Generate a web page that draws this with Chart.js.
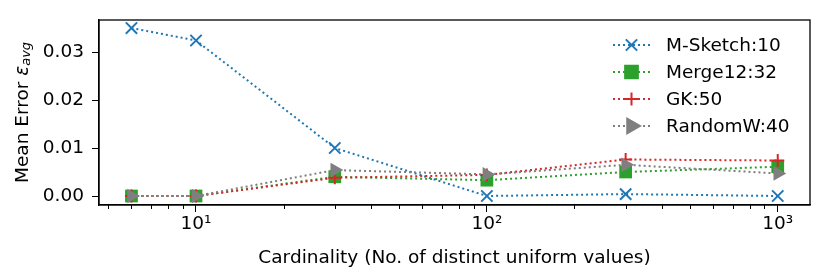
<!DOCTYPE html>
<html>
<head>
<meta charset="utf-8">
<script src="https://cdn.jsdelivr.net/npm/chart.js@4"></script>
<style>
  html, body { margin: 0; padding: 0; background: #fff; }
  #wrap { width: 830px; height: 278px; }
</style>
</head>
<body>
<div id="wrap"><canvas id="myChart" width="830" height="278"></canvas></div>
<script>
// cardinalities (x, log scale)
const cardinality = [6, 10, 30, 100, 300, 1000];
// mean error per sketch
const mSketch = [0.0350, 0.0324, 0.0100, 0.0000, 0.0004, 0.0000];
const merge12 = [0.0000, 0.0000, 0.0040, 0.0033, 0.0050, 0.0061];
const gk50 = [0.0000, 0.0000, 0.0038, 0.0044, 0.0076, 0.0074];
const randomW = [0.0000, 0.0000, 0.0054, 0.0045, 0.0065, 0.0047];
const seriesLabels = ['M-Sketch:10', 'Merge12:32', 'GK:50', 'RandomW:40'];
const xTicks = [10, 100, 1000];
const xTickLabels = ['10¹', '10²', '10³'];
const yTicks = [0, 0.01, 0.02, 0.03];

const FONT = 'DejaVu Sans';
const FS = 18.5;

function pts(ys) {
    return cardinality.map((x, i) => ({x: x, y: ys[i]}));
}

const styles = [
    {color: '#1f77b4', pointStyle: 'crossRot', radius: 8, borderWidth: 2, rotation: 0},
    {color: '#2ca02c', pointStyle: 'rect', radius: 9, borderWidth: 0, rotation: 0},
    {color: '#d62728', pointStyle: 'cross', radius: 6.5, borderWidth: 2, rotation: 0},
    {color: '#7f7f7f', pointStyle: 'triangle', radius: 8.5, borderWidth: 0, rotation: 90}
];
const allData = [mSketch, merge12, gk50, randomW];

const datasets = allData.map((ys, i) => ({
    label: seriesLabels[i],
    data: pts(ys),
    borderColor: styles[i].color,
    backgroundColor: styles[i].color,
    borderWidth: 2,
    borderDash: [2, 3],
    borderCapStyle: 'butt',
    pointStyle: styles[i].pointStyle,
    pointRadius: styles[i].radius,
    pointRotation: styles[i].rotation,
    pointBorderWidth: styles[i].borderWidth,
    pointBorderColor: styles[i].color,
    pointBackgroundColor: styles[i].color,
    order: 3 - i   // later series painted on top, like matplotlib
}));

// frame, minor ticks, y title and an in-plot legend
const extras = {
    id: 'extras',
    afterDraw(chart) {
        const ctx = chart.ctx;
        const a = chart.chartArea;
        const xs = chart.scales.x;
        ctx.save();
        ctx.strokeStyle = '#000';
        ctx.lineWidth = 1.3;
        ctx.strokeRect(a.left, a.top, a.right - a.left, a.bottom - a.top);

        // minor log ticks
        ctx.lineWidth = 1;
        [1, 10, 100].forEach(d => {
            for (let k = 2; k <= 9; k++) {
                const v = d * k;
                if (v < xs.min || v > xs.max) continue;
                const px = Math.round(xs.getPixelForValue(v)) + 0.5;
                ctx.beginPath();
                ctx.moveTo(px, a.bottom);
                ctx.lineTo(px, a.bottom + 4);
                ctx.stroke();
            }
        });

        // y axis title: Mean Error ε_avg
        ctx.fillStyle = '#000';
        ctx.translate(23, (a.top + a.bottom) / 2);
        ctx.rotate(-Math.PI / 2);
        ctx.textBaseline = 'middle';
        const main = 'Mean Error ';
        ctx.font = FS + 'px "' + FONT + '"';
        const w1 = ctx.measureText(main).width;
        ctx.font = 'italic ' + FS + 'px "' + FONT + '"';
        const w2 = ctx.measureText('ε').width;
        ctx.font = 'italic ' + (FS * 0.7) + 'px "' + FONT + '"';
        const w3 = ctx.measureText('avg').width;
        let x0 = -(w1 + w2 + w3) / 2;
        ctx.font = FS + 'px "' + FONT + '"';
        ctx.fillText(main, x0, 0);
        ctx.font = 'italic ' + FS + 'px "' + FONT + '"';
        ctx.fillText('ε', x0 + w1, 0);
        ctx.font = 'italic ' + (FS * 0.7) + 'px "' + FONT + '"';
        ctx.fillText('avg', x0 + w1 + w2, 4);
        ctx.restore();

        // legend
        ctx.save();
        const lx0 = 613, lx1 = 650, tx = 666;
        const rowY = [45, 72, 99, 126];
        ctx.font = FS + 'px "' + FONT + '"';
        ctx.textBaseline = 'middle';
        seriesLabels.forEach((lab, i) => {
            const s = styles[i];
            const y = rowY[i];
            ctx.strokeStyle = s.color;
            ctx.fillStyle = s.color;
            ctx.lineWidth = 2;
            ctx.setLineDash([2, 3]);
            ctx.beginPath();
            ctx.moveTo(lx0, y);
            ctx.lineTo(lx1, y);
            ctx.stroke();
            ctx.setLineDash([]);
            Chart.helpers.drawPoint(ctx, {
                pointStyle: s.pointStyle,
                rotation: s.rotation,
                radius: s.radius,
                borderWidth: s.borderWidth || 0.01
            }, (lx0 + lx1) / 2, y);
            ctx.fillStyle = '#000';
            ctx.fillText(lab, tx, y + 1);
        });
        ctx.restore();
    }
};

const ctx = document.getElementById('myChart');
const myChart = new Chart(ctx, {
    type: 'line',
    data: {datasets: datasets},
    options: {
        responsive: false,
        animation: false,
        layout: {padding: {left: 4, top: 20, right: 20, bottom: 5}},
        plugins: {
            legend: {display: false},
            tooltip: {enabled: false}
        },
        scales: {
            x: {
                type: 'logarithmic',
                min: 4.64,
                max: 1291,
                afterBuildTicks: s => { s.ticks = xTicks.map(v => ({value: v})); },
                afterFit: s => { s.height = 68; },
                ticks: {
                    autoSkip: false,
                    maxRotation: 0,
                    padding: 1,
                    color: '#000',
                    font: {family: FONT, size: FS},
                    callback: (v) => {
                        const i = xTicks.indexOf(v);
                        return i >= 0 ? xTickLabels[i] : '';
                    }
                },
                grid: {drawOnChartArea: false, color: '#000', tickLength: 7, tickWidth: 1},
                border: {color: '#000', width: 1.3},
                title: {
                    display: true,
                    text: 'Cardinality (No. of distinct uniform values)',
                    color: '#000',
                    font: {family: FONT, size: FS},
                    padding: {top: 4, bottom: 4}
                }
            },
            y: {
                min: -0.001875,
                max: 0.03667,
                afterBuildTicks: s => { s.ticks = yTicks.map(v => ({value: v})); },
                afterFit: s => { s.width = 95; },
                ticks: {
                    padding: 8,
                    color: '#000',
                    font: {family: FONT, size: FS},
                    callback: v => v.toFixed(2)
                },
                grid: {drawOnChartArea: false, color: '#000', tickLength: 7, tickWidth: 1},
                border: {color: '#000', width: 1.3}
            }
        }
    },
    plugins: [extras]
});
</script>
</body>
</html>
